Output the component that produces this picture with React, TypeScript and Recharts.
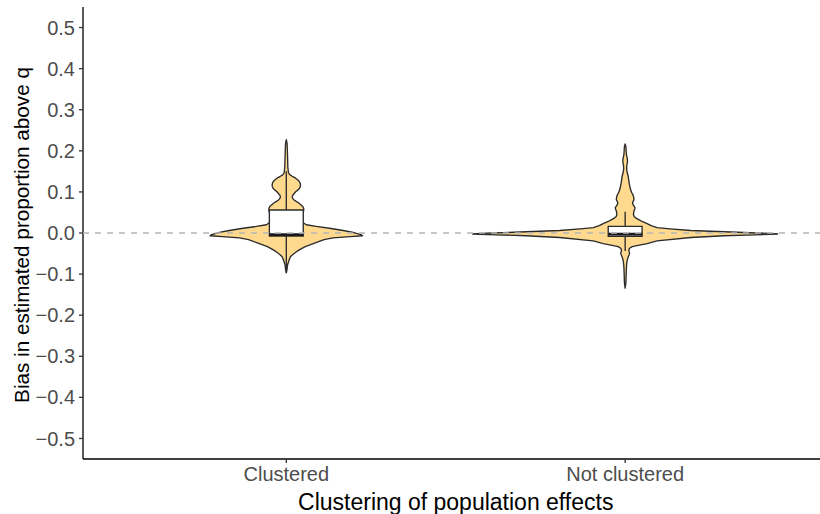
import React from 'react';
import { ComposedChart, XAxis, YAxis, Scatter, Label } from 'recharts';

// Groups on the x axis and where they sit on the numeric scale
const categories = ['Clustered', 'Not clustered'];
const categoryPositions = [1, 2];
const yTicks = [-0.5, -0.4, -0.3, -0.2, -0.1, 0, 0.1, 0.2, 0.3, 0.4, 0.5];

// Violin profiles: bias value and relative kernel density (1 = widest violin)
const clusteredBias = [
  -0.097, -0.088, -0.078, -0.065, -0.058, -0.053, -0.047, -0.041, -0.033, -0.024,
  -0.016, -0.012, -0.009, -0.0066, -0.004, -0.002, 0.002, 0.006, 0.011, 0.016,
  0.02, 0.025, 0.035, 0.045, 0.055, 0.06, 0.065, 0.069, 0.073, 0.077,
  0.081, 0.085, 0.088, 0.091, 0.095, 0.101, 0.105, 0.109, 0.113, 0.117,
  0.122, 0.126, 0.13, 0.134, 0.138, 0.142, 0.146, 0.15, 0.16, 0.175,
  0.19, 0.205, 0.218, 0.227,
];
const clusteredDensity = [
  0, 0.005, 0.008, 0.019, 0.027, 0.041, 0.062, 0.085, 0.124, 0.19,
  0.248, 0.307, 0.418, 0.5, 0.49, 0.471, 0.431, 0.373, 0.294, 0.196,
  0.131, 0.111, 0.105, 0.108, 0.114, 0.114, 0.107, 0.095, 0.082, 0.065,
  0.049, 0.041, 0.039, 0.041, 0.049, 0.063, 0.077, 0.087, 0.092, 0.093,
  0.09, 0.084, 0.072, 0.059, 0.039, 0.022, 0.015, 0.013, 0.01, 0.009,
  0.008, 0.0065, 0.005, 0,
];

const notClusteredBias = [
  -0.134, -0.12, -0.1, -0.085, -0.075, -0.069, -0.063, -0.058, -0.053, -0.049,
  -0.045, -0.041, -0.037, -0.033, -0.03, -0.026, -0.019, -0.011, -0.0066, -0.0045,
  -0.0025, -0.001, 0, 0.003, 0.006, 0.01, 0.013, 0.018, 0.023, 0.028,
  0.032, 0.036, 0.04, 0.045, 0.049, 0.053, 0.057, 0.061, 0.065, 0.069,
  0.073, 0.077, 0.081, 0.087, 0.093, 0.099, 0.105, 0.113, 0.122, 0.13,
  0.138, 0.146, 0.154, 0.16, 0.166, 0.172, 0.178, 0.183, 0.19, 0.2,
  0.21, 0.217,
];
const notClusteredDensity = [
  0, 0.005, 0.0065, 0.008, 0.01, 0.012, 0.016, 0.02, 0.026, 0.029,
  0.026, 0.024, 0.029, 0.046, 0.085, 0.144, 0.209, 0.431, 0.647, 0.85,
  1, 0.948, 0.863, 0.647, 0.431, 0.294, 0.209, 0.17, 0.144, 0.111,
  0.092, 0.072, 0.059, 0.054, 0.056, 0.057, 0.062, 0.065, 0.059, 0.052,
  0.048, 0.052, 0.058, 0.056, 0.051, 0.042, 0.036, 0.031, 0.026, 0.023,
  0.02, 0.014, 0.01, 0.01, 0.011, 0.015, 0.015, 0.013, 0.0085, 0.0065,
  0.005, 0,
];

// Boxplot statistics per group (same order as categories)
const lowerWhisker = [-0.097, -0.044];
const firstQuartile = [-0.0075, -0.008];
const medianBias = [-0.004, -0.0025];
const thirdQuartile = [0.056, 0.016];
const upperWhisker = [0.15, 0.052];

const X_DOMAIN: [number, number] = [0.4, 2.575];
const Y_DOMAIN: [number, number] = [-0.55, 0.55];
const VIOLIN_HALF_WIDTH = 0.45;
const BOX_HALF_WIDTH = 0.05;

const FONT = '"Liberation Sans", Arial, Helvetica, sans-serif';
const VIOLIN_FILL = '#FED98E';
const OUTLINE = '#2b2b2b';

type Pt = { x: number; y: number };

function violinOutline(center: number, bias: number[], density: number[]): Pt[] {
  const right = bias.map((y, i) => ({ x: center + density[i] * VIOLIN_HALF_WIDTH, y }));
  const left = bias
    .map((y, i) => ({ x: center - density[i] * VIOLIN_HALF_WIDTH, y }))
    .reverse();
  return [...right, ...left];
}

function boxOutline(i: number): Pt[] {
  const c = categoryPositions[i];
  return [
    { x: c - BOX_HALF_WIDTH, y: firstQuartile[i] },
    { x: c + BOX_HALF_WIDTH, y: firstQuartile[i] },
    { x: c + BOX_HALF_WIDTH, y: thirdQuartile[i] },
    { x: c - BOX_HALF_WIDTH, y: thirdQuartile[i] },
  ];
}

const violins = [
  violinOutline(categoryPositions[0], clusteredBias, clusteredDensity),
  violinOutline(categoryPositions[1], notClusteredBias, notClusteredDensity),
];

const noPoint = () => <g />;

const formatY = (v: number) =>
  Math.abs(v) < 1e-9 ? '0.0' : v.toFixed(1).replace('-', '\u2212');

const formatX = (v: number) => {
  const i = categoryPositions.indexOf(v);
  return i >= 0 ? categories[i] : '';
};

const XTitle = (props: any) => {
  const vb = props.viewBox || { x: 0, y: 0, width: 0, height: 0 };
  const mid = (categoryPositions[0] + categoryPositions[1]) / 2;
  const cx = vb.x + (vb.width * (mid - X_DOMAIN[0])) / (X_DOMAIN[1] - X_DOMAIN[0]);
  return (
    <text x={cx} y={vb.y + 51} textAnchor="middle" fontSize={23} fontFamily={FONT} fill="#000">
      Clustering of population effects
    </text>
  );
};

const YTitle = (props: any) => {
  const vb = props.viewBox || { x: 0, y: 0, width: 0, height: 0 };
  const cx = vb.x + 29;
  const cy = vb.y + vb.height / 2 + 2;
  return (
    <text
      x={cx}
      y={cy}
      transform={`rotate(-90, ${cx}, ${cy})`}
      textAnchor="middle"
      fontSize={20.7}
      fontFamily={FONT}
      fill="#000"
    >
      Bias in estimated proportion above q
    </text>
  );
};

export default function App() {
  return (
    <div style={{ position: 'absolute', left: 0, top: 0, width: 820, height: 514, background: '#fff' }}>
      <ComposedChart width={820} height={514} margin={{ top: 7, right: 0, bottom: 0, left: 0 }}>
        <XAxis
          dataKey="x"
          type="number"
          domain={X_DOMAIN}
          allowDataOverflow
          ticks={categoryPositions}
          tickFormatter={formatX}
          interval={0}
          height={55}
          tickSize={4}
          tickMargin={4}
          axisLine={{ stroke: '#000', strokeWidth: 1.3 }}
          tickLine={{ stroke: '#333', strokeWidth: 1.3 }}
          tick={{ fill: '#4D4D4D', fontSize: 20, fontFamily: FONT }}
        >
          <Label content={XTitle} />
        </XAxis>
        <YAxis
          dataKey="y"
          type="number"
          domain={Y_DOMAIN}
          allowDataOverflow
          ticks={yTicks}
          tickFormatter={formatY}
          interval={0}
          width={83}
          tickSize={4}
          tickMargin={4}
          axisLine={{ stroke: '#000', strokeWidth: 1.3 }}
          tickLine={{ stroke: '#333', strokeWidth: 1.3 }}
          tick={{ fill: '#4D4D4D', fontSize: 20, fontFamily: FONT }}
        >
          <Label content={YTitle} />
        </YAxis>

        {violins.map((pts, i) => (
          <Scatter
            key={`violin-${i}`}
            data={pts}
            shape={noPoint}
            line={{ fill: VIOLIN_FILL, stroke: OUTLINE, strokeWidth: 1.35, strokeLinejoin: 'round' }}
            lineType="joint"
            lineJointType="linearClosed"
            isAnimationActive={false}
          />
        ))}

        {categoryPositions.map((c, i) => (
          <Scatter
            key={`whisker-up-${i}`}
            data={[{ x: c, y: thirdQuartile[i] }, { x: c, y: upperWhisker[i] }]}
            shape={noPoint}
            line={{ stroke: OUTLINE, strokeWidth: 1.35 }}
            lineType="joint"
            lineJointType="linear"
            isAnimationActive={false}
          />
        ))}
        {categoryPositions.map((c, i) => (
          <Scatter
            key={`whisker-down-${i}`}
            data={[{ x: c, y: firstQuartile[i] }, { x: c, y: lowerWhisker[i] }]}
            shape={noPoint}
            line={{ stroke: OUTLINE, strokeWidth: 1.35 }}
            lineType="joint"
            lineJointType="linear"
            isAnimationActive={false}
          />
        ))}

        {categoryPositions.map((_, i) => (
          <Scatter
            key={`box-${i}`}
            data={boxOutline(i)}
            shape={noPoint}
            line={{ fill: '#FFFFFF', stroke: OUTLINE, strokeWidth: 1.35 }}
            lineType="joint"
            lineJointType="linearClosed"
            isAnimationActive={false}
          />
        ))}

        {categoryPositions.map((c, i) => (
          <Scatter
            key={`median-${i}`}
            data={[
              { x: c - BOX_HALF_WIDTH, y: medianBias[i] },
              { x: c + BOX_HALF_WIDTH, y: medianBias[i] },
            ]}
            shape={noPoint}
            line={{ stroke: '#1a1a1a', strokeWidth: 2.7 }}
            lineType="joint"
            lineJointType="linear"
            isAnimationActive={false}
          />
        ))}

        <Scatter
          data={[{ x: X_DOMAIN[0], y: 0 }, { x: X_DOMAIN[1], y: 0 }]}
          shape={noPoint}
          line={{ stroke: '#B5B5B5', strokeWidth: 1.35, strokeDasharray: '6 6' }}
          lineType="joint"
          lineJointType="linear"
          isAnimationActive={false}
        />
      </ComposedChart>
    </div>
  );
}
